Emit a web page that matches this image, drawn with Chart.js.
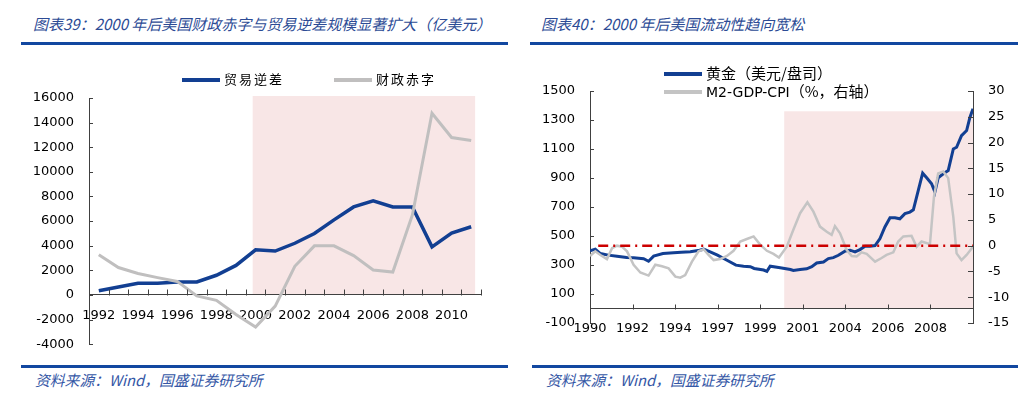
<!DOCTYPE html>
<html>
<head>
<meta charset="utf-8">
<script src="https://cdn.jsdelivr.net/npm/chart.js@4.4.1/dist/chart.umd.min.js"></script>
<style>
  body { margin: 0; background: #fff; width: 1024px; height: 398px; position: relative; overflow: hidden;
         font-family: "Noto Sans CJK SC", sans-serif; }
  .title { position: absolute; top: 14px; font-style: italic; color: #2c4b95; font-size: 15px; line-height: 20px; white-space: nowrap; }
  .rule { position: absolute; height: 3px; background: #1247a0; }
  .src { position: absolute; top: 370px; font-style: italic; color: #3557a6; font-size: 14.8px; line-height: 19px; white-space: nowrap; }
  canvas { position: absolute; }
  .lg { position: absolute; font-size: 13px; line-height: 16px; white-space: nowrap; color: #000; }
  .sw { position: absolute; height: 4px; width: 38px; }
</style>
</head>
<body>

<div class="title" style="left:33px">图表39：2000 年后美国财政赤字与贸易逆差规模显著扩大（亿美元）</div>
<div class="title" style="left:541px">图表40：2000 年后美国流动性趋向宽松</div>
<div class="rule" style="left:21px;width:487px;top:42px"></div>
<div class="rule" style="left:530px;width:488px;top:42px"></div>

<canvas id="leftChart" width="512" height="317" style="left:0;top:50px"></canvas>
<canvas id="rightChart" width="512" height="310" style="left:512px;top:50px"></canvas>

<!-- legends -->
<div class="sw" style="left:182px;top:78px;background:#123f92"></div>
<div class="lg" style="left:224px;top:71px;letter-spacing:2px">贸易逆差</div>
<div class="sw" style="left:334px;top:78px;background:#c0bfbf"></div>
<div class="lg" style="left:376px;top:71px;letter-spacing:2px">财政赤字</div>

<div class="sw" style="left:664px;top:72px;background:#123f92"></div>
<div class="lg" style="left:706px;top:64px;font-size:15px;line-height:18px">黄金（美元/盘司）</div>
<div class="sw" style="left:664px;top:90px;background:#c4c4c4"></div>
<div class="lg" style="left:706px;top:82px;font-size:14px;line-height:18px;font-family:'DejaVu Sans','Noto Sans CJK SC',sans-serif">M2-GDP-CPI<span style="font-family:'Noto Sans CJK SC';font-size:15px">（%，右轴）</span></div>

<div class="rule" style="left:21px;width:487px;top:365px"></div>
<div class="rule" style="left:532px;width:486px;top:365px"></div>
<div class="src" style="left:35px">资料来源：Wind，国盛证券研究所</div>
<div class="src" style="left:546px">资料来源：Wind，国盛证券研究所</div>

<script>
// ---- left chart data (亿美元) ----
const years = ["1992", "1993", "1994", "1995", "1996", "1997", "1998", "1999", "2000", "2001",
               "2002", "2003", "2004", "2005", "2006", "2007", "2008", "2009", "2010", "2011"];
const tradeDeficit = [340, 650, 950, 960, 1050, 1060, 1600, 2400, 3670, 3570,
                      4200, 4990, 6100, 7150, 7640, 7150, 7150, 3910, 5020, 5540];
const fiscalDeficit = [3260, 2230, 1740, 1410, 1100, -80, -440, -1580, -2600, -900,
                       2330, 3990, 3990, 3200, 2030, 1860, 6500, 14760, 12790, 12540];

// ---- right chart data ----
const goldYears = [1990.00, 1990.29, 1990.57, 1991.00, 1991.48, 1992.01, 1992.39, 1992.94, 1993.21, 1993.49,
                   1994.00, 1994.58, 1995.00, 1995.50, 1996.01, 1996.23, 1996.59, 1996.99, 1997.51, 1998.00,
                   1998.42, 1998.79, 1999.00, 1999.52, 1999.70, 1999.88, 2000.43, 2000.99, 2001.15, 2001.52,
                   2001.88, 2002.16, 2002.43, 2002.80, 2003.07, 2003.34, 2003.62, 2004.00, 2004.26, 2004.53,
                   2004.80, 2005.08, 2005.35, 2005.63, 2005.90, 2006.17, 2006.45, 2006.72, 2006.99, 2007.27,
                   2007.54, 2007.73, 2008.00, 2008.24, 2008.46, 2008.73, 2008.91, 2009.09, 2009.37, 2009.64,
                   2009.92, 2010.10, 2010.37, 2010.65, 2010.83, 2011.00];
const goldPrice = [397, 409, 379, 368, 361, 352, 350, 343, 326, 361,
                   379, 384, 388, 391, 402, 409, 391, 368, 333, 299,
                   292, 288, 276, 265, 256, 292, 281, 269, 262, 269,
                   274, 288, 314, 321, 344, 351, 367, 397, 402, 390,
                   406, 429, 429, 434, 482, 562, 626, 626, 619, 654,
                   665, 681, 814, 933, 901, 860, 803, 901, 929, 951,
                   1100, 1112, 1192, 1227, 1318, 1378];
const m2Years = [1990.00, 1990.29, 1990.57, 1990.93, 1991.21, 1991.48, 1991.75, 1992.03, 1992.39, 1992.76,
                 1993.21, 1993.58, 1993.95, 1994.31, 1994.68, 1994.95, 1995.22, 1995.59, 1995.95, 1996.23,
                 1996.50, 1996.78, 1997.14, 1997.51, 1997.87, 1998.24, 1998.60, 1998.97, 1999.33, 1999.70,
                 2000.06, 2000.36, 2000.79, 2001.15, 2001.52, 2001.92, 2002.25, 2002.61, 2002.98, 2003.25,
                 2003.43, 2003.71, 2004.07, 2004.35, 2004.62, 2004.89, 2005.17, 2005.63, 2005.99, 2006.26,
                 2006.63, 2006.90, 2007.18, 2007.63, 2007.91, 2008.18, 2008.64, 2008.86, 2009.09, 2009.37,
                 2009.64, 2009.92, 2010.10, 2010.37, 2010.65, 2011.00];
const m2GdpCpi = [-2.0, -1.1, -1.8, -2.6, -0.5, 0.0, -0.2, -1.1, -3.7, -5.2,
                  -5.8, -3.7, -4.0, -4.4, -6.0, -6.2, -5.7, -3.1, -1.1, -0.7,
                  -1.8, -2.8, -2.6, -2.0, -1.0, 0.8, 1.3, 1.8, 0.2, -1.0,
                  -1.6, -2.3, -0.2, 3.1, 6.3, 8.4, 6.6, 3.7, 2.7, 2.1,
                  3.8, 2.4, -0.8, -2.0, -2.1, -1.3, -1.6, -3.1, -2.4, -1.8,
                  -1.3, 0.8, 1.8, 1.9, -0.2, 0.8, 0.3, 9.5, 14.0, 14.4,
                  13.1, 5.6, -1.5, -2.8, -1.8, -0.2];
const zeroLineYears = [1990.45, 2011];
const zeroLine = [0, 0];

const BLUE = "#123f92";
const GREY = "#c0bfbf";
const PINK = "#f8e6e6";
const AXIS = "#404040";

Chart.defaults.font.family = "'DejaVu Sans', sans-serif";
Chart.defaults.font.size = 13;
Chart.defaults.color = "#000";

const plainNumber = v => String(v);

// pink band behind the plot
function shadePlugin(xFrom, xTo, yTop, yBottom, yId) {
  return {
    id: "shade",
    beforeDraw(chart) {
      const x = chart.scales.x, y = chart.scales[yId];
      const x0 = x.getPixelForValue(xFrom), x1 = x.getPixelForValue(xTo);
      const y0 = y.getPixelForValue(yTop), y1 = y.getPixelForValue(yBottom);
      const ctx = chart.ctx;
      ctx.save();
      ctx.fillStyle = PINK;
      ctx.fillRect(x0, y0, x1 - x0, y1 - y0);
      ctx.restore();
    }
  };
}

// short tick marks pointing into the plot
function tickPlugin(xMode, baseId, yIds) {
  return {
    id: "innerTicks",
    afterDraw(chart) {
      const ctx = chart.ctx, area = chart.chartArea;
      const x = chart.scales.x;
      const base = Math.round(chart.scales[baseId].getPixelForValue(0)) + 0.5;
      ctx.save();
      ctx.strokeStyle = AXIS;
      ctx.lineWidth = 1;
      ctx.beginPath();
      if (xMode === "bounds") {
        for (let i = 1; i <= x.ticks.length; i++) {
          const px = Math.round(x.getPixelForValue(i - 0.5)) + 0.5;
          ctx.moveTo(px, base); ctx.lineTo(px, base - 6);
        }
      } else {
        x.ticks.forEach((t, i) => {
          if (i === 0) return;
          const px = Math.round(x.getPixelForTick(i)) + 0.5;
          ctx.moveTo(px, base); ctx.lineTo(px, base - 5);
        });
      }
      yIds.forEach(id => {
        const s = chart.scales[id];
        const right = s.position === "right";
        const x0 = right ? area.right : area.left;
        s.ticks.forEach((t, i) => {
          const py = Math.round(s.getPixelForTick(i)) + 0.5;
          ctx.moveTo(x0, py); ctx.lineTo(x0 + (right ? -5 : 4), py);
        });
      });
      ctx.stroke();
      ctx.restore();
    }
  };
}

// ---- 图表39 ----
new Chart(document.getElementById("leftChart").getContext("2d"), {
  type: "line",
  data: {
    labels: years,
    datasets: [
      { label: "财政赤字", data: fiscalDeficit, borderColor: GREY, backgroundColor: GREY,
        borderWidth: 3, pointRadius: 0, tension: 0, order: 1 },
      { label: "贸易逆差", data: tradeDeficit, borderColor: BLUE, backgroundColor: BLUE,
        borderWidth: 3.5, pointRadius: 0, tension: 0, order: 2 }
    ]
  },
  options: {
    responsive: false,
    animation: false,
    layout: { padding: { left: 0, right: 31, top: 48, bottom: 10 } },
    plugins: { legend: { display: false }, tooltip: { enabled: false } },
    scales: {
      x: {
        type: "category",
        position: { y: 0 },
        offset: true,
        afterFit(s) { s.height = 0; },
        grid: { display: false, drawTicks: false, offset: true },
        border: { display: true, color: AXIS, width: 1 },
        ticks: {
          autoSkip: false, maxRotation: 0, padding: 13,
          callback(v, i) { return i % 2 === 0 ? this.getLabelForValue(v) : ""; }
        }
      },
      y: {
        min: -4000, max: 16000,
        afterFit(s) { s.width = 89; },
        grid: { display: false, drawTicks: false },
        border: { display: true, color: AXIS, width: 1 },
        ticks: { stepSize: 2000, padding: 15, callback: plainNumber }
      }
    }
  },
  plugins: [shadePlugin(7.85, 19.2, 16160, 0, "y"), tickPlugin("bounds", "y", ["y"])]
});

// ---- 图表40 ----
new Chart(document.getElementById("rightChart").getContext("2d"), {
  type: "line",
  data: {
    datasets: [
      { label: "zero", data: zeroLineYears.map((x, i) => ({ x, y: zeroLine[i] })), yAxisID: "y1",
        borderColor: "#cc0000", borderWidth: 2.5, borderDash: [10, 5, 2, 5], pointRadius: 0, order: 0 },
      { label: "M2-GDP-CPI（%，右轴）", data: m2Years.map((x, i) => ({ x, y: m2GdpCpi[i] })), yAxisID: "y1",
        borderColor: "#c4c4c4", backgroundColor: "#c4c4c4", borderWidth: 2.5, pointRadius: 0, tension: 0, order: 1 },
      { label: "黄金（美元/盘司）", data: goldYears.map((x, i) => ({ x, y: goldPrice[i] })), yAxisID: "y",
        borderColor: BLUE, backgroundColor: BLUE, borderWidth: 3, pointRadius: 0, tension: 0, order: 2 }
    ]
  },
  options: {
    responsive: false,
    animation: false,
    layout: { padding: { left: 0, right: 0, top: 41, bottom: 37 } },
    plugins: { legend: { display: false }, tooltip: { enabled: false } },
    scales: {
      x: {
        type: "linear",
        position: { y: 0 },
        min: 1990, max: 2011,
        afterFit(s) { s.height = 0; },
        grid: { display: false, drawTicks: false },
        border: { display: true, color: AXIS, width: 1 },
        ticks: {
          stepSize: 7 / 3, autoSkip: false, maxRotation: 0, padding: 12,
          callback(v, i, t) { return i === t.length - 1 ? "" : String(Math.floor(v + 1e-6)); }
        }
      },
      y: {
        position: "left",
        min: -100, max: 1500,
        afterFit(s) { s.width = 78; },
        grid: { display: false, drawTicks: false },
        border: { display: true, color: AXIS, width: 1 },
        ticks: { stepSize: 200, padding: 15, callback: plainNumber }
      },
      y1: {
        position: "right",
        min: -15, max: 30,
        afterFit(s) { s.width = 51; },
        grid: { display: false, drawTicks: false },
        border: { display: true, color: AXIS, width: 1 },
        ticks: { stepSize: 5, padding: 15, callback: plainNumber }
      }
    }
  },
  plugins: [shadePlugin(2000.65, 2011, 1360, 0, "y"), tickPlugin("ticks", "y", ["y", "y1"])]
});
</script>
</body>
</html>
